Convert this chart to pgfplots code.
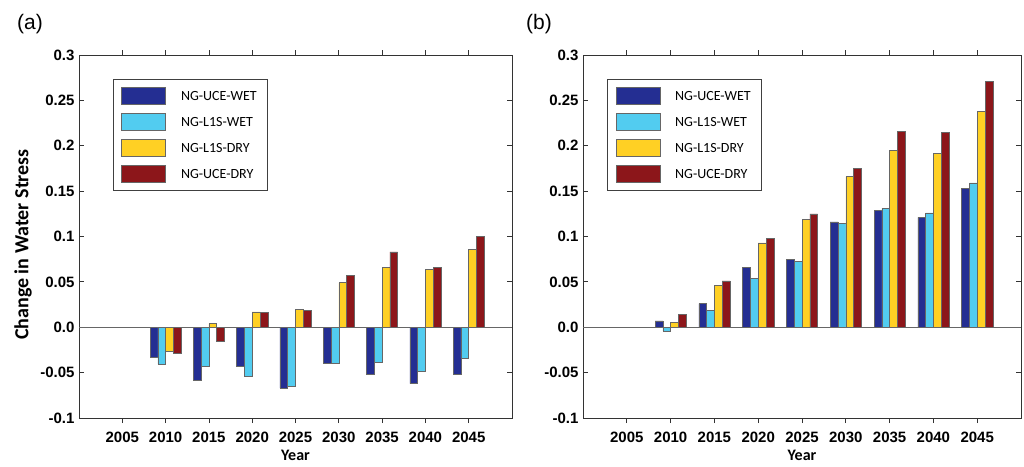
\documentclass[border=0pt]{standalone}
\usepackage{fontspec}
\setmainfont{Liberation Sans}
\newfontfamily\carlito{Carlito}
\usepackage{pgfplots}
\usepackage{pgfplotstable}
\pgfplotsset{compat=1.18}

\definecolor{uw}{RGB}{36,46,146}
\definecolor{lw}{RGB}{82,204,240}
\definecolor{ld}{RGB}{255,208,36}
\definecolor{ud}{RGB}{140,22,26}

\pgfplotstableread{
year uw lw ld ud
2010 -0.033 -0.041 -0.027 -0.029
2015 -0.059 -0.043 0.004 -0.015
2020 -0.043 -0.054 0.017 0.016
2025 -0.067 -0.065 0.020 0.019
2030 -0.040 -0.040 0.049 0.057
2035 -0.052 -0.039 0.066 0.083
2040 -0.062 -0.048 0.064 0.066
2045 -0.052 -0.034 0.086 0.100
}\tableA

\pgfplotstableread{
year uw lw ld ud
2010 0.007 -0.004 0.005 0.014
2015 0.026 0.019 0.046 0.051
2020 0.066 0.054 0.093 0.098
2025 0.075 0.073 0.119 0.125
2030 0.116 0.114 0.166 0.175
2035 0.129 0.131 0.195 0.216
2040 0.121 0.126 0.192 0.215
2045 0.153 0.159 0.238 0.271
}\tableB

\pgfplotsset{
  panel/.style={
    scale only axis, height=363pt,
    xmin=2000, xmax=2050, ymin=-0.1, ymax=0.3,
    xtick={2005,2010,2015,2020,2025,2030,2035,2040,2045},
    xticklabels={2005,2010,2015,2020,2025,2030,2035,2040,2045},
    ytick={-0.1,-0.05,0,0.05,0.1,0.15,0.2,0.25,0.3},
    yticklabels={-0.1,-0.05,0.0,0.05,0.1,0.15,0.2,0.25,0.3},
    /pgf/number format/assume math mode=true,
    tick align=inside, major tick length=5pt,
    tick style={black!80, line width=0.8pt},
    axis line style={black!80, line width=1pt},
    ticklabel style={font=\bfseries\fontsize{15}{16}\selectfont},
    xticklabel style={yshift=-5pt},
    yticklabel style={xshift=-1pt},
    extra y ticks={0}, extra y tick labels={},
    extra y tick style={grid=major, major grid style={black!60, line width=0.9pt}, major tick length=0pt},
    ybar=0pt, bar width=7.8pt,
    every axis plot/.append style={draw=black!60, line width=0.6pt},
    xlabel={Year},
    every axis x label/.style={at={(rel axis cs:0.5,0)}, anchor=center, yshift=-37pt,
      font=\carlito\bfseries\fontsize{16}{16}\selectfont},
    legend cell align=left,
    legend image code/.code={\draw[#1] (0pt,-8.5pt) rectangle (44pt,8.5pt);},
    legend style={anchor=north west, draw=black!75, line width=0.9pt,
      font=\carlito\fontsize{14}{14}\selectfont,
      inner xsep=8pt, inner ysep=7.5pt, row sep=8.5pt,
      nodes={inner sep=1pt, text depth=0pt},
      /tikz/every odd column/.append style={column sep=14pt}},
  }
}

\begin{document}
\begin{tikzpicture}
\path[use as bounding box] (0,0) rectangle (1024pt,466pt);
\node[font=\fontsize{21}{21}\selectfont] at (30pt,442pt) {(a)};
\node[font=\fontsize{21}{21}\selectfont] at (539pt,442pt) {(b)};

\begin{axis}[panel, at={(79pt,48pt)}, anchor=south west, width=433pt,
    ylabel={Change in Water Stress},
    every axis y label/.style={at={(rel axis cs:0,0.5)}, rotate=90, anchor=center,
      xshift=-8pt, yshift=56pt, font=\carlito\bfseries\fontsize{20}{20}\selectfont},
    legend style={at={(0.0785,0.934)}}]
\addplot[fill=uw] table[x=year,y=uw] {\tableA};
\addplot[fill=lw] table[x=year,y=lw] {\tableA};
\addplot[fill=ld] table[x=year,y=ld] {\tableA};
\addplot[fill=ud] table[x=year,y=ud] {\tableA};
\legend{NG-UCE-WET\hspace*{2pt},NG-L1S-WET,NG-L1S-DRY,NG-UCE-DRY}
\end{axis}

\begin{axis}[panel, at={(583pt,48pt)}, anchor=south west, width=438pt,
    legend style={at={(0.055,0.934)}}]
\addplot[fill=uw] table[x=year,y=uw] {\tableB};
\addplot[fill=lw] table[x=year,y=lw] {\tableB};
\addplot[fill=ld] table[x=year,y=ld] {\tableB};
\addplot[fill=ud] table[x=year,y=ud] {\tableB};
\legend{NG-UCE-WET\hspace*{2pt},NG-L1S-WET,NG-L1S-DRY,NG-UCE-DRY}
\end{axis}
\end{tikzpicture}
\end{document}
